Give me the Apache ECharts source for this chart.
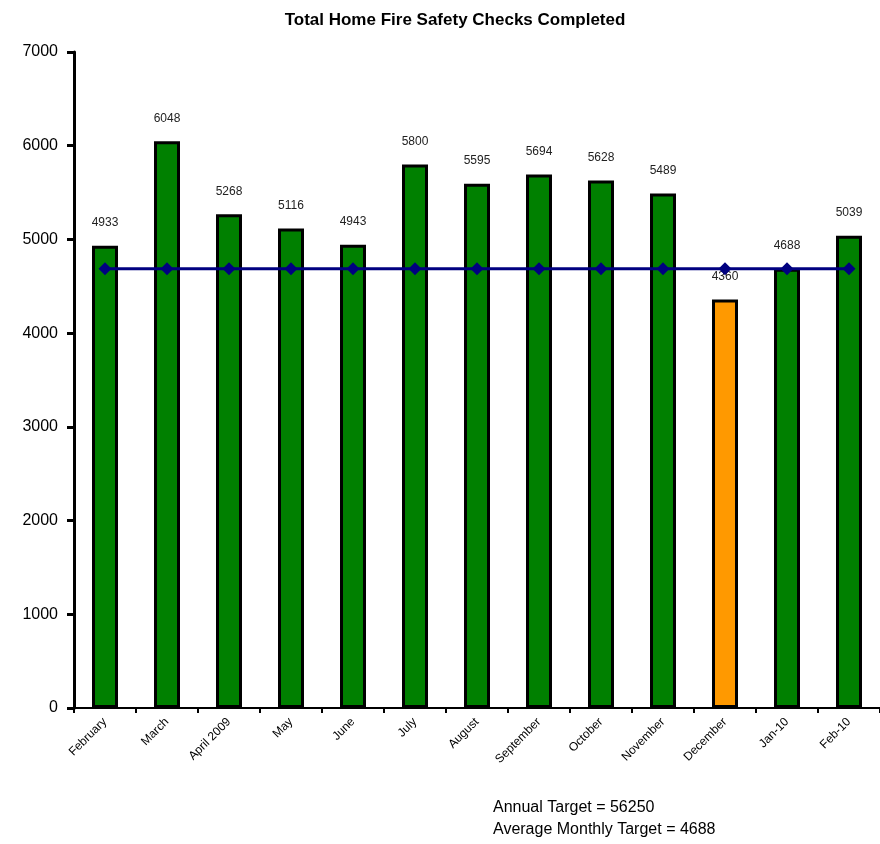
<!DOCTYPE html>
<html>
<head>
<meta charset="utf-8">
<script src="https://cdn.jsdelivr.net/npm/echarts@6/dist/echarts.min.js"></script>
<style>
  html, body { margin: 0; padding: 0; background: #fff; }
  #chart { width: 880px; height: 844px; }
</style>
</head>
<body>
<div id="chart"></div>
<script>
  // months as written on the axis
  var months = ['February', 'March', 'April 2009', 'May', 'June', 'July', 'August',
    'September', 'October', 'November', 'December', 'Jan-10', 'Feb-10']
  var checksCompleted = [4933, 6048, 5268, 5116, 4943, 5800, 5595, 5694, 5628, 5489, 4360, 4688, 5039]
  var monthlyTarget = [4688, 4688, 4688, 4688, 4688, 4688, 4688, 4688, 4688, 4688, 4688, 4688, 4688]
  var yTicks = [0, 1000, 2000, 3000, 4000, 5000, 6000, 7000]

  var chart = echarts.init(document.getElementById('chart'))

  chart.setOption({
    backgroundColor: '#fff',
    animation: false,
    textStyle: { fontFamily: 'Liberation Sans, Arial, sans-serif' },
    title: {
      text: 'Total Home Fire Safety Checks Completed',
      left: 450,
      textAlign: 'center',
      top: 7,
      textStyle: { color: '#000', fontSize: 17, fontWeight: 'bold' }
    },
    grid: {
      left: 74,
      right: 0,
      top: 52,
      bottom: 136,
      containLabel: false
    },
    graphic: [
      {
        type: 'text',
        left: 493,
        top: 797,
        style: {
          text: 'Annual Target = 56250\nAverage Monthly Target = 4688',
          fill: '#000',
          fontSize: 16,
          lineHeight: 22,
          fontFamily: 'Liberation Sans, Arial, sans-serif'
        }
      }
    ],
    xAxis: {
      type: 'category',
      data: months,
      boundaryGap: true,
      axisLine: { lineStyle: { color: '#000', width: 2 } },
      axisTick: { show: true, length: 5, lineStyle: { color: '#000', width: 2 } },
      axisLabel: {
        rotate: 45,
        color: '#000',
        fontSize: 12,
        margin: 12,
        interval: 0
      },
      splitLine: { show: false }
    },
    yAxis: {
      type: 'value',
      min: yTicks[0],
      max: yTicks[yTicks.length - 1],
      interval: 1000,
      axisLine: { show: true, lineStyle: { color: '#000', width: 3 } },
      axisTick: { show: true, length: 7, lineStyle: { color: '#000', width: 3 } },
      axisLabel: {
        color: '#000',
        fontSize: 16,
        margin: 16,
        formatter: function (v) { return String(v) }
      },
      splitLine: { show: false }
    },
    series: [
      {
        name: 'Checks Completed',
        type: 'bar',
        barWidth: 26,
        data: checksCompleted.map(function (v, i) {
          return {
            value: v,
            itemStyle: { color: months[i] === 'December' ? '#FF9900' : '#008000' }
          }
        }),
        itemStyle: { borderColor: '#000', borderWidth: 3 },
        label: {
          show: true,
          position: 'top',
          distance: 17,
          color: '#222',
          fontSize: 12
        }
      },
      {
        name: 'Average Monthly Target',
        type: 'line',
        data: monthlyTarget,
        symbol: 'diamond',
        symbolSize: 13,
        lineStyle: { color: '#000080', width: 3 },
        itemStyle: { color: '#000080' },
        z: 5
      }
    ]
  })
</script>
</body>
</html>
